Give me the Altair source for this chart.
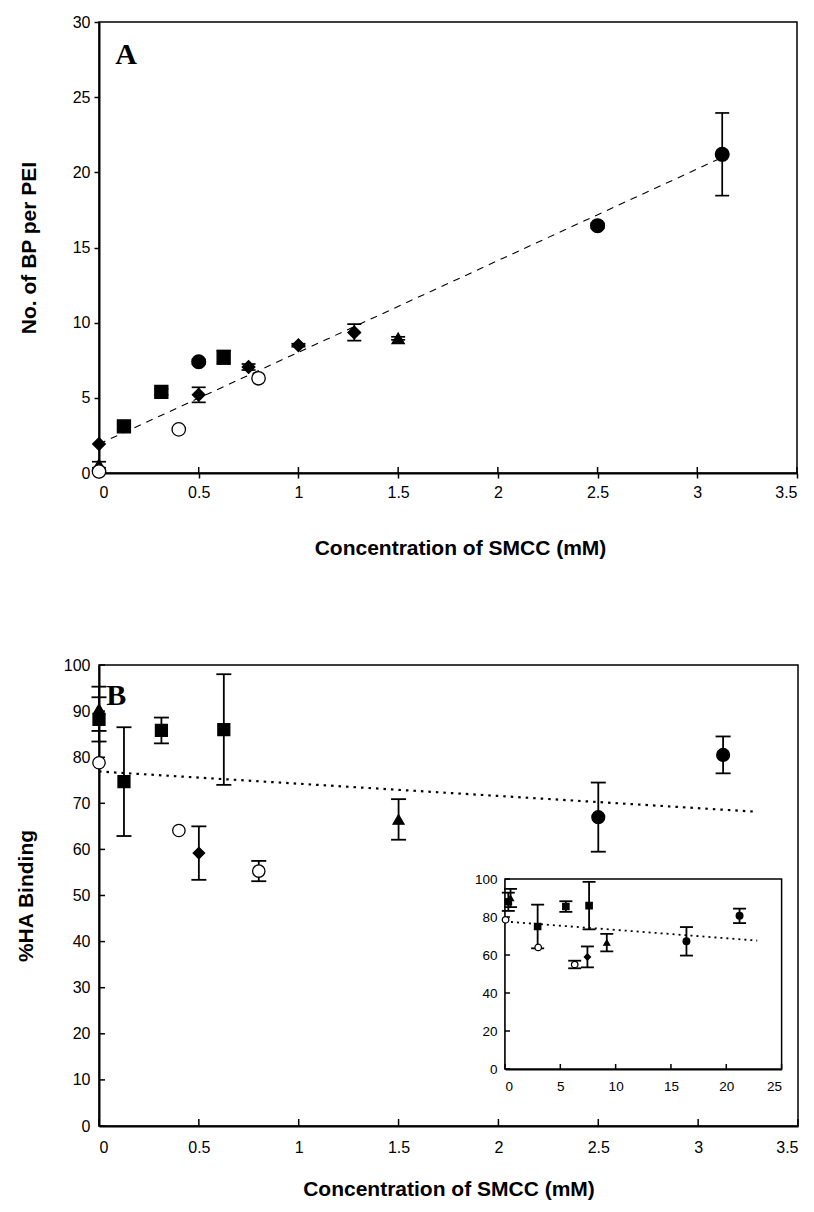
import altair as alt
import pandas as pd

# ---------------- Panel A: BP conjugated per PEI vs SMCC concentration
a_conc = [0, 0, 0, 0.125, 0.3125, 0.4, 0.5, 0.5, 0.625, 0.75, 0.8, 1.0, 1.28, 1.5, 2.5, 3.125]
a_bp = [1.93, 0.55, 0.1, 3.1, 5.4, 2.9, 7.4, 5.2, 7.7, 7.05, 6.3, 8.5, 9.35, 8.96, 16.45, 21.2]
a_err = [0, 0.2, 0, 0.15, 0.2, 0, 0.15, 0.5, 0.45, 0.2, 0, 0.1, 0.55, 0.1, 0.15, 2.75]
a_marker = ["diamond", "triangle", "open", "square", "square", "open", "circle", "diamond",
            "square", "diamond", "open", "diamond", "diamond", "triangle", "circle", "circle"]
a_fit_conc = [0, 3.125]
a_fit_bp = [1.93, 20.99]
a_x_ticks = [0, 0.5, 1, 1.5, 2, 2.5, 3, 3.5]
a_y_ticks = [0, 5, 10, 15, 20, 25, 30]

# ---------------- Panel B: %HA binding vs SMCC concentration
b_conc = [0, 0, 0, 0.125, 0.3125, 0.625, 0.4, 0.5, 0.8, 1.5, 2.5, 3.125]
b_ha = [88.2, 90.5, 78.8, 74.7, 85.8, 86.0, 64.1, 59.2, 55.3, 66.5, 67.0, 80.5]
b_err = [4.8, 4.8, 0, 11.8, 2.8, 12.0, 0, 5.8, 2.2, 4.4, 7.5, 4.0]
b_marker = ["square", "triangle", "open", "square", "square", "square", "open", "diamond",
            "open", "triangle", "circle", "circle"]
b_fit_conc = [0, 3.28]
b_fit_ha = [76.9, 68.2]
b_x_ticks = [0, 0.5, 1, 1.5, 2, 2.5, 3, 3.5]
b_y_ticks = [0, 10, 20, 30, 40, 50, 60, 70, 80, 90, 100]

# ---------------- Inset: %HA binding vs BP per PEI
i_bp = [0.3, 0.5, 0.05, 2.95, 3.0, 5.5, 7.6, 7.45, 6.3, 9.2, 16.4, 21.2]
i_ha = [88.0, 90.0, 78.5, 75.0, 64.0, 85.5, 86.0, 59.0, 55.0, 66.5, 67.2, 80.6]
i_err = [4.8, 4.8, 0, 11.5, 0, 2.8, 12.5, 5.5, 2.0, 4.6, 7.5, 3.8]
i_marker = ["square", "triangle", "open", "square", "open", "square", "square", "diamond",
            "open", "triangle", "circle", "circle"]
i_fit_bp = [0, 22.8]
i_fit_ha = [77.6, 67.6]
i_x_ticks = [0, 5, 10, 15, 20, 25]
i_y_ticks = [0, 20, 40, 60, 80, 100]

panel_labels = ["A", "B"]
x_title = "Concentration of SMCC (mM)"

marker_domain = ["circle", "open", "square", "diamond", "triangle"]
shape_range = ["circle", "circle", "square", "diamond", "triangle-up"]
fill_range = ["black", "white", "black", "black", "black"]

FONT = "Liberation Sans"


def frame(xs, ys, errs, markers):
    df = pd.DataFrame({"x": xs, "y": ys, "err": errs, "marker": markers})
    df["lo"] = df["y"] - df["err"]
    df["hi"] = df["y"] + df["err"]
    return df


def caps_frame(df):
    bars = df[df["err"] > 0]
    return pd.concat([
        pd.DataFrame({"x": bars["x"], "v": bars["lo"]}),
        pd.DataFrame({"x": bars["x"], "v": bars["hi"]}),
    ])


def series_layers(df, xs, ys, x_axis, y_axis, sizes, cap_size, bar_width, fit, fit_dash, fit_width):
    """Trend line, error bars, caps and markers sharing one pair of scales and axes."""
    fx = lambda f: alt.X(f, scale=xs, axis=x_axis)
    fy = lambda f: alt.Y(f, scale=ys, axis=y_axis)
    fit_df = pd.DataFrame({"x": fit[0], "y": fit[1]})
    line = alt.Chart(fit_df).mark_line(color="black", strokeDash=fit_dash, strokeWidth=fit_width).encode(
        x=fx("x:Q"), y=fy("y:Q"),
    )
    bars = alt.Chart(df[df["err"] > 0]).mark_rule(color="black", strokeWidth=bar_width).encode(
        x=fx("x:Q"), y=fy("lo:Q"), y2="hi:Q",
    )
    caps = alt.Chart(caps_frame(df)).mark_tick(
        orient="horizontal", color="black", size=cap_size, thickness=bar_width, opacity=1
    ).encode(x=fx("x:Q"), y=fy("v:Q"))
    points = alt.Chart(df).mark_point(filled=True, opacity=1, stroke="black", strokeWidth=1.3).encode(
        x=fx("x:Q"),
        y=fy("y:Q"),
        shape=alt.Shape("marker:N", scale=alt.Scale(domain=marker_domain, range=shape_range), legend=None),
        fill=alt.Fill("marker:N", scale=alt.Scale(domain=marker_domain, range=fill_range), legend=None),
        size=alt.Size("marker:N", scale=alt.Scale(domain=marker_domain, range=sizes), legend=None),
    )
    return [line, bars, caps, points]


def inner_ticks(values, scale, axis, channel, at_px, length):
    """Tick marks drawn on the inner side of an axis line."""
    df = pd.DataFrame({"t": values})
    if channel == "x":
        return alt.Chart(df).mark_tick(orient="vertical", color="black", size=length, thickness=1.5,
                                       opacity=1).encode(
            x=alt.X("t:Q", scale=scale, axis=axis), y=alt.value(at_px - length / 2))
    return alt.Chart(df).mark_tick(orient="horizontal", color="black", size=length, thickness=1.5,
                                   opacity=1).encode(
        y=alt.Y("t:Q", scale=scale, axis=axis), x=alt.value(at_px + length / 2))


def panel_label(text, px, py):
    return alt.Chart(pd.DataFrame({"t": [text]})).mark_text(
        font="Liberation Serif", fontWeight="bold", fontSize=30, align="left", baseline="alphabetic",
        color="black",
    ).encode(x=alt.value(px), y=alt.value(py), text="t:N")


# ---------- Panel A
A_W, A_H = 698, 451
a_df = frame(a_conc, a_bp, a_err, a_marker)
a_xs = alt.Scale(domain=[0, 3.5], nice=False, zero=False)
a_ys = alt.Scale(domain=[0, 30], nice=False, zero=False)
a_x_axis = alt.Axis(title=x_title, values=a_x_ticks, format="~g", tickSize=5, labelPadding=6,
                    titleY=81, titleX=A_W / 2 + 12, titleBaseline="alphabetic")
a_y_axis = alt.Axis(title="No. of BP per PEI", values=a_y_ticks, tickSize=5, labelPadding=4,
                    titleX=-63.7, titleBaseline="alphabetic")
chart_a = alt.layer(
    inner_ticks(a_x_ticks, a_xs, a_x_axis, "x", A_H, 6),
    *series_layers(a_df, a_xs, a_ys, a_x_axis, a_y_axis, [190, 150, 175, 240, 230], 14, 1.7,
                   (a_fit_conc, a_fit_bp), [7, 6], 1.1),
    panel_label(panel_labels[0], 16.3, 42),
).properties(width=A_W, height=A_H)

# ---------- Panel B with inset
B_W, B_H = 699, 461
b_df = frame(b_conc, b_ha, b_err, b_marker)
b_xs = alt.Scale(domain=[0, 3.5], nice=False, zero=False)
b_ys = alt.Scale(domain=[0, 100], nice=False, zero=False)
b_x_axis = alt.Axis(title=x_title, values=b_x_ticks, format="~g", ticks=False, labelPadding=13,
                    titleY=69, titleBaseline="alphabetic")
b_y_axis = alt.Axis(title="%HA Binding", values=b_y_ticks, ticks=False, labelPadding=9,
                    titleX=-66.7, titleBaseline="alphabetic")
main_b = alt.layer(
    inner_ticks(b_x_ticks, b_xs, b_x_axis, "x", B_H, 7),
    inner_ticks(b_y_ticks, b_ys, b_y_axis, "y", 0, 6),
    *series_layers(b_df, b_xs, b_ys, b_x_axis, b_y_axis, [165, 120, 150, 200, 210], 15, 1.8,
                   (b_fit_conc, b_fit_ha), [2.5, 5], 2.2),
    panel_label(panel_labels[1], 7.3, 40),
)

# inset occupies its own pixel range inside panel B
I_X0, I_X1, I_Y0, I_Y1 = 406, 682.6, 404, 214
i_df = frame(i_bp, i_ha, i_err, i_marker)
i_xs = alt.Scale(domain=[0, 25], range=[I_X0, I_X1], nice=False, zero=False)
i_ys = alt.Scale(domain=[0, 100], range=[I_Y0, I_Y1], nice=False, zero=False)
i_x_axis = alt.Axis(title=None, values=i_x_ticks, orient="bottom", offset=I_Y0 - B_H, ticks=False,
                    labelPadding=10, labelFontSize=13.5, domainWidth=2)
i_y_axis = alt.Axis(title=None, values=i_y_ticks, orient="left", offset=-I_X0, ticks=False,
                    labelPadding=8, labelFontSize=13.5, domainWidth=2)
inset_box = alt.Chart(pd.DataFrame({"x0": [0], "x1": [25], "y0": [0], "y1": [100]})).mark_rect(
    fill="white", stroke="black", strokeWidth=1.5
).encode(
    x=alt.X("x0:Q", scale=i_xs, axis=i_x_axis),
    x2="x1:Q",
    y=alt.Y("y0:Q", scale=i_ys, axis=i_y_axis),
    y2="y1:Q",
)
inset = alt.layer(
    inset_box,
    inner_ticks(i_x_ticks, i_xs, i_x_axis, "x", I_Y0, 5),
    inner_ticks(i_y_ticks, i_ys, i_y_axis, "y", I_X0, 5),
    *series_layers(i_df, i_xs, i_ys, i_x_axis, i_y_axis, [45, 35, 38, 55, 60], 13, 1.8,
                   (i_fit_bp, i_fit_ha), [2, 4], 1.8),
)

chart_b = alt.layer(main_b, inset).resolve_scale(
    x="independent", y="independent", size="independent", shape="independent", fill="independent"
).properties(width=B_W, height=B_H)

chart = alt.vconcat(chart_a, chart_b, spacing=97).properties(
    padding={"left": 14, "top": 13, "right": 5, "bottom": 5}
).configure_view(stroke="black", strokeWidth=1.5).configure_axis(
    grid=False, domainColor="black", domainWidth=2, tickColor="black", tickWidth=1.5,
    labelColor="black", titleColor="black", labelFont=FONT, titleFont=FONT,
    labelFontSize=16, titleFontSize=21, titleFontWeight="bold",
)

chart.save("out.html", embed_options={"renderer": "svg", "actions": False})
